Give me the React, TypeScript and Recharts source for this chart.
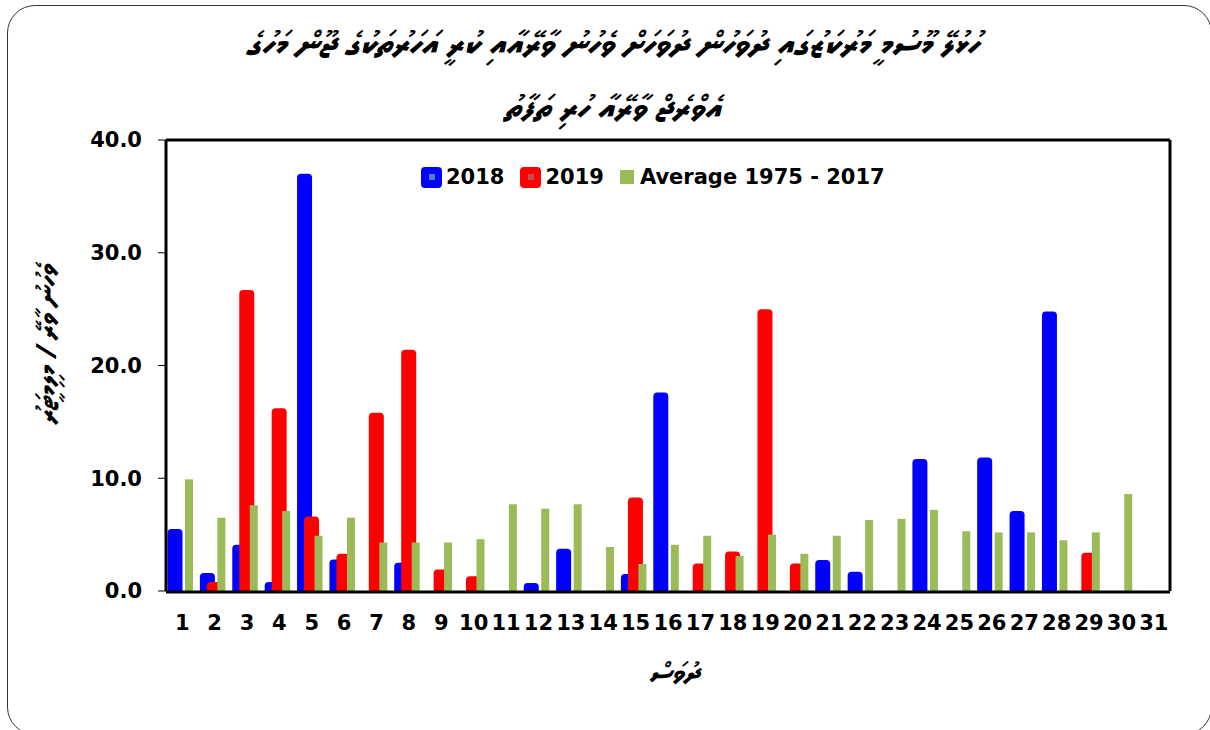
import React from 'react';
import { BarChart, Bar, XAxis, YAxis, Legend, Rectangle } from 'recharts';

// days of the month (x categories)
const days = ['1', '2', '3', '4', '5', '6', '7', '8', '9', '10', '11', '12', '13', '14', '15', '16',
  '17', '18', '19', '20', '21', '22', '23', '24', '25', '26', '27', '28', '29', '30', '31'];

// daily rainfall, mm
const rain2018 = [5.5, 1.6, 4.1, 0.8, 37.0, 2.8, 0, 2.5, 0, 0, 0, 0.7, 3.75, 0, 1.5, 17.6,
  0, 0, 0, 0, 2.75, 1.7, 0, 11.7, 0, 11.85, 7.1, 24.8, 0, 0, 0];
const rain2019 = [0, 0.8, 26.7, 16.2, 6.6, 3.3, 15.8, 21.4, 1.9, 1.3, 0, 0, 0, 0, 8.3, 0,
  2.45, 3.5, 25.0, 2.45, 0, 0, 0, 0, 0, 0, 0, 0, 3.4, 0, 0];
const average = [9.9, 6.5, 7.6, 7.1, 4.9, 6.5, 4.3, 4.3, 4.3, 4.6, 7.7, 7.3, 7.7, 3.9, 2.4, 4.1,
  4.9, 3.1, 5.0, 3.3, 4.9, 6.3, 6.4, 7.2, 5.3, 5.2, 5.2, 4.5, 5.2, 8.6, 0];

const yTicks = [0, 10, 20, 30, 40];
const dayEdges = [0, 1, 2, 3, 4, 5, 6, 7, 8, 9, 10, 11, 12, 13, 14, 15, 16, 17, 18, 19, 20,
  21, 22, 23, 24, 25, 26, 27, 28, 29, 30, 31];

const titleLine1 = 'ހުޅުލޭ މޫސުމީ މަރުކަޒުގައި ދުވަހުން ދުވަހަށް ވެހުނު ވާރޭއާއި ކުރީ އަހަރުތަކުގެ ޖޫން މަހުގެ';
const titleLine2 = 'އެވްރެޖް ވާރޭއާ ހުރި ތަފާތު';
const yLabel = 'ވެހުނު ވާރޭ / މިލިމީޓަރު';
const xLabel = 'ދުވަސް';

const data = days.map((d, i) => ({
  day: d,
  y2018: rain2018[i],
  y2019: rain2019[i],
  avg: average[i],
}));

const LATIN = "'DejaVu Sans', 'Liberation Sans', Arial, sans-serif";
const THAANA = "'Noto Sans Thaana', 'MV Boli', Faruma, 'DejaVu Sans', sans-serif";

// Excel draws the series overlapping, so nudge each bar sideways a little
const shifted = (dx: number, radius: number[]) => (props: any) => {
  const { x, y, width, height, fill } = props;
  if (!height) return <g />;
  return <Rectangle x={x + dx} y={y} width={width} height={height} fill={fill} radius={radius as any} />;
};

const LegendContent = (props: any) => {
  const { payload } = props;
  return (
    <div style={{ display: 'flex', alignItems: 'center', fontFamily: LATIN, fontWeight: 'bold', fontSize: 21, color: '#000' }}>
      {payload.map((entry: any) => {
        const isAvg = entry.dataKey === 'avg';
        const inner = entry.dataKey === 'y2018' ? '#4f81bd' : '#c0504d';
        return (
          <div key={entry.value} style={{ display: 'flex', alignItems: 'center', marginRight: 16 }}>
            {isAvg ? (
              <span style={{ width: 14, height: 14, background: entry.color, marginRight: 6 }} />
            ) : (
              <span style={{ width: 21, height: 21, background: entry.color, borderRadius: 4, marginRight: 4,
                display: 'flex', alignItems: 'center', justifyContent: 'center' }}>
                <span style={{ width: 6, height: 6, background: inner }} />
              </span>
            )}
            <span>{entry.value}</span>
          </div>
        );
      })}
    </div>
  );
};

export default function App() {
  return (
    <div style={{ position: 'absolute', left: 0, top: 0, width: 1210, height: 730, background: '#fff', overflow: 'hidden' }}>
      {/* slide frame */}
      <div style={{ position: 'absolute', left: 7, top: 5, width: 1205, height: 730, border: '1.5px solid #333',
        borderRadius: 28, boxSizing: 'border-box' }} />

      {/* title */}
      <div dir="rtl" style={{ position: 'absolute', left: 0, top: 12, width: 1224, textAlign: 'center', fontFamily: THAANA,
        fontWeight: 'bold', fontStyle: 'italic', fontSize: 34, lineHeight: '64px', color: '#000' }}>
        <div>{titleLine1}</div>
        <div>{titleLine2}</div>
      </div>

      {/* y axis title */}
      <div dir="rtl" style={{ position: 'absolute', left: 47, top: 345, transform: 'translate(-50%, -50%) rotate(-90deg)',
        whiteSpace: 'nowrap', fontFamily: THAANA, fontWeight: 'bold', fontStyle: 'italic', fontSize: 28, color: '#000' }}>
        {yLabel}
      </div>

      {/* x axis title */}
      <div dir="rtl" style={{ position: 'absolute', left: 674, top: 673, transform: 'translate(-50%, -50%)',
        whiteSpace: 'nowrap', fontFamily: THAANA, fontWeight: 'bold', fontStyle: 'italic', fontSize: 28, color: '#000' }}>
        {xLabel}
      </div>

      <div style={{ position: 'absolute', left: 0, top: 0 }}>
        <BarChart width={1210} height={730} data={data} barGap={-8}
          margin={{ top: 139, right: 39, bottom: 137, left: 100 }}>
          <XAxis xAxisId="cat" dataKey="day" interval={0} height={1} tickSize={0} tickMargin={24}
            tickLine={false} axisLine={false}
            tick={{ fill: '#000', fontSize: 21, fontWeight: 'bold', fontFamily: LATIN }} />
          <XAxis xAxisId="edges" type="number" domain={[0, 31]} ticks={dayEdges} height={1}
            tick={false} tickSize={8} tickLine={{ stroke: '#000', strokeWidth: 1 }}
            axisLine={{ stroke: '#000', strokeWidth: 3 }} allowDataOverflow />
          <XAxis xAxisId="top" orientation="top" dataKey="day" height={1} tickLine={false}
            tick={false} axisLine={{ stroke: '#000', strokeWidth: 3 }} />
          <YAxis yAxisId="left" domain={[0, 40]} ticks={yTicks} width={66} tickSize={8} tickMargin={16}
            tickFormatter={(v: number) => v.toFixed(1)}
            axisLine={{ stroke: '#000', strokeWidth: 3 }} tickLine={{ stroke: '#000', strokeWidth: 1 }}
            tick={{ fill: '#000', fontSize: 21, fontWeight: 'bold', fontFamily: LATIN }} />
          <YAxis yAxisId="right" orientation="right" domain={[0, 40]} width={1} tick={false} tickLine={false}
            axisLine={{ stroke: '#000', strokeWidth: 3 }} />
          <Legend verticalAlign="middle" align="center" layout="horizontal" content={<LegendContent />}
            wrapperStyle={{ position: 'absolute', top: 165, left: 421, width: 'auto' }} />
          <Bar xAxisId="cat" yAxisId="left" dataKey="y2018" name="2018" fill="#0000ff" barSize={15}
            shape={shifted(-3.5, [4, 4, 0, 0])} isAnimationActive={false} />
          <Bar xAxisId="cat" yAxisId="left" dataKey="y2019" name="2019" fill="#ff0000" barSize={15}
            shape={shifted(-3.5, [4, 4, 0, 0])} isAnimationActive={false} />
          <Bar xAxisId="cat" yAxisId="left" dataKey="avg" name="Average 1975 - 2017" fill="#9bbb59" barSize={8}
            shape={shifted(0, [0, 0, 0, 0])} isAnimationActive={false} />
        </BarChart>
      </div>
    </div>
  );
}
